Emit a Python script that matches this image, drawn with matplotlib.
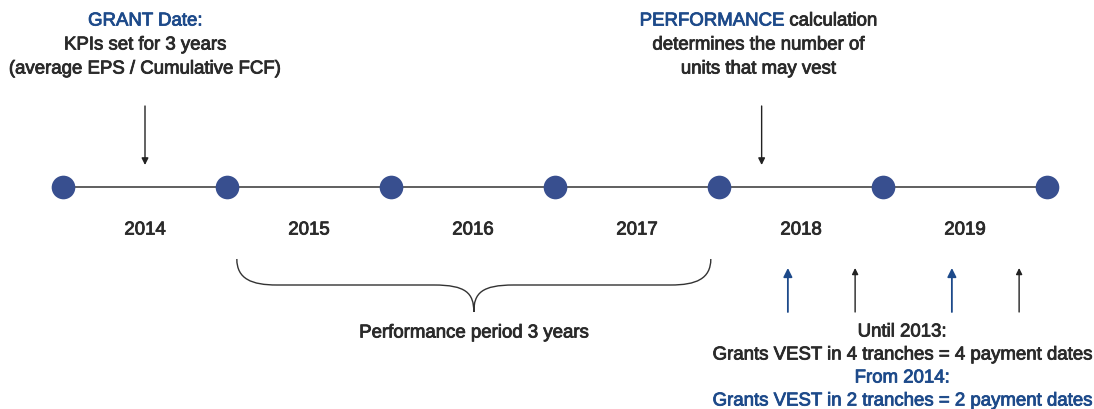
import matplotlib
matplotlib.use("Agg")
import matplotlib.pyplot as plt
import matplotlib.patheffects as pe
from matplotlib.path import Path
from matplotlib.patches import PathPatch

# timeline data (x in years, dots mark year boundaries)
BOUNDS = [2014, 2015, 2016, 2017, 2018, 2019, 2020]
YEARS = ["2014", "2015", "2016", "2017", "2018", "2019"]
GRANT_AT = 2014.5
PERF_AT = 2018.26
VEST_BLUE = [2018.42, 2019.42]
VEST_BLACK = [2018.83, 2019.83]
BRACE = (2015.06, 2017.95)

BLUE = "#1d4a8a"
DOT = "#384f8f"
INK = "#2a2a2a"

plt.rcParams["font.family"] = ["Liberation Sans", "DejaVu Sans"]

fig = plt.figure(figsize=(10.94, 4.10), dpi=100)
ax = fig.add_axes([0, 0, 1, 1])
ax.set_xlim(2014 - 63 / 164, 2014 + 1031 / 164)
ax.set_ylim(410, 0)
ax.axis("off")

LINE_Y = 188
ax.plot([BOUNDS[0], BOUNDS[-1]], [LINE_Y, LINE_Y], color="#444444", lw=1.2, zorder=1)
ax.scatter(BOUNDS, [LINE_Y] * len(BOUNDS), s=290, color=DOT, zorder=2, linewidths=0)

fs = 13.4


def txt(x, y, s, color, ha="center"):
    # regular face with a thin stroke, close to a medium weight
    return ax.text(x, y, s, color=color, ha=ha, va="center", fontsize=fs,
                   path_effects=[pe.withStroke(linewidth=0.6, foreground=color)])


for i, y in enumerate(YEARS):
    txt(BOUNDS[i] + 0.5, 231, y, INK)

# top-left annotation
txt(GRANT_AT, 22, "GRANT Date:", BLUE)
txt(GRANT_AT, 46, "KPIs set for 3 years", INK)
txt(GRANT_AT, 70, "(average EPS / Cumulative FCF)", INK)

# performance annotation, two colours on one line
t1 = txt(PERF_AT, 22, "PERFORMANCE", BLUE, ha="right")
t2 = txt(PERF_AT, 22, " calculation", INK, ha="left")
fig.canvas.draw()
r = fig.canvas.get_renderer()
w1 = t1.get_window_extent(renderer=r).width
w2 = t2.get_window_extent(renderer=r).width
shift = (w1 - w2) / 2 / 164
t1.set_x(PERF_AT + shift - 0.02)
t2.set_x(PERF_AT + shift - 0.02)
txt(PERF_AT - 0.02, 46, "determines the number of", INK)
txt(PERF_AT - 0.02, 70, "units that may vest", INK)

# down arrows
for x in [GRANT_AT, PERF_AT]:
    ax.annotate("", xy=(x, 166), xytext=(x, 107),
                arrowprops=dict(arrowstyle="-|>", color="#222222", lw=1.0,
                                mutation_scale=10, shrinkA=0, shrinkB=0))

# vesting arrows
for xs, c, ms in [(VEST_BLUE, BLUE, 13), (VEST_BLACK, "#222222", 9)]:
    for x in xs:
        ax.annotate("", xy=(x, 269), xytext=(x, 313),
                    arrowprops=dict(arrowstyle="-|>", color=c, lw=1.3 if c == BLUE else 1.0,
                                    mutation_scale=ms, shrinkA=0, shrinkB=0))

# brace
x0, x1 = BRACE
xm = (x0 + x1) / 2
k = 1 / 164
verts = [
    (x0, 260), (x0, 280), (x0 + 15 * k, 286), (x0 + 40 * k, 286),
    (xm - 40 * k, 286),
    (xm - 8 * k, 286), (xm, 294), (xm, 313),
    (xm, 294), (xm + 8 * k, 286), (xm + 40 * k, 286),
    (x1 - 40 * k, 286),
    (x1 - 15 * k, 286), (x1, 280), (x1, 260),
]
codes = [Path.MOVETO, Path.CURVE4, Path.CURVE4, Path.CURVE4,
         Path.LINETO,
         Path.CURVE4, Path.CURVE4, Path.CURVE4,
         Path.CURVE4, Path.CURVE4, Path.CURVE4,
         Path.LINETO,
         Path.CURVE4, Path.CURVE4, Path.CURVE4]
ax.add_patch(PathPatch(Path(verts, codes), fill=False, edgecolor="#333333", lw=1.0))
txt(xm, 334, "Performance period 3 years", INK)

# vesting text
vx = 2014 + (902 - 63) / 164
txt(vx, 333, "Until 2013:", INK)
txt(vx, 356, "Grants VEST in 4 tranches = 4 payment dates", INK)
txt(vx, 379, "From 2014:", BLUE)
txt(vx, 402, "Grants VEST in 2 tranches = 2 payment dates", BLUE)

fig.savefig("out.png", dpi=100)
